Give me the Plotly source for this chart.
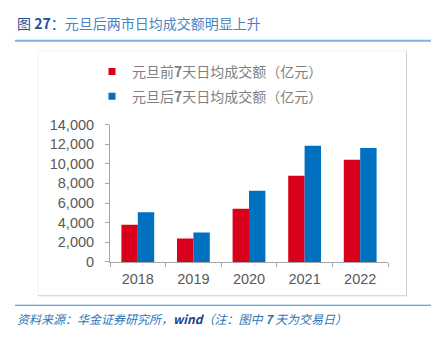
import plotly.graph_objects as go

W, H = 436, 339
years = ["2018", "2019", "2020", "2021", "2022"]
before = [3800, 2380, 5410, 8790, 10420]
after = [5050, 3000, 7260, 11850, 11620]
name_before = "元旦前<b>7</b>天日均成交额（亿元）"
name_after = "元旦后<b>7</b>天日均成交额（亿元）"
y_ticks = [0, 2000, 4000, 6000, 8000, 10000, 12000, 14000]

RED = "#D9001B"
BLUE = "#0070C0"
CJK = "Noto Sans CJK SC, Liberation Sans, Arial, sans-serif"
NUM = "Liberation Sans, Arial, sans-serif"

def px(x):
    return x / W

def py(y):
    return 1 - y / H

fig = go.Figure()
fig.add_trace(go.Bar(x=years, y=before, name=name_before, marker_color=RED,
                     marker_line_width=0, showlegend=False))
fig.add_trace(go.Bar(x=years, y=after, name=name_after, marker_color=BLUE,
                     marker_line_width=0, showlegend=False))
# legend keys (small squares like the reference)
fig.add_trace(go.Scatter(x=[None], y=[None], mode="markers", name=name_before,
                         marker=dict(symbol="square", size=7, color=RED),
                         legend="legend"))
fig.add_trace(go.Scatter(x=[None], y=[None], mode="markers", name=name_after,
                         marker=dict(symbol="square", size=7, color=BLUE),
                         legend="legend2"))

legend_style = dict(font=dict(family=CJK, size=14, color="#808080"),
                    bgcolor="rgba(0,0,0,0)", xanchor="left", yanchor="middle",
                    itemwidth=30)

fig.update_layout(
    width=W, height=H,
    margin=dict(l=0, r=0, t=0, b=0),
    paper_bgcolor="white", plot_bgcolor="white",
    barmode="group", bargap=0.41, bargroupgap=0,
    showlegend=True,
    legend=dict(x=px(92), y=py(67), **legend_style),
    legend2=dict(x=px(92), y=py(93), **legend_style),
    xaxis=dict(domain=[px(110), px(388)], type="category",
               categoryorder="array", categoryarray=years,
               showline=True, linecolor="#A6A6A6", linewidth=1,
               ticks="outside", tickson="boundaries", ticklen=4,
               tickcolor="#A6A6A6",
               tickfont=dict(family=NUM, size=14.5, color="#595959"),
               showgrid=False, ticklabelstandoff=4),
    yaxis=dict(domain=[py(266.5), py(122.3)], range=[0, 14000],
               tickvals=y_ticks, tickformat=",",
               showline=True, linecolor="#A6A6A6", linewidth=1,
               ticks="outside", ticklen=4, tickcolor="#A6A6A6",
               tickfont=dict(family=NUM, size=14.5, color="#595959"),
               showgrid=False, zeroline=False, ticklabelstandoff=8),
)

shapes = [
    # title underline
    dict(type="line", xref="paper", yref="paper", x0=px(15), x1=px(431),
         y0=py(34.5), y1=py(34.5), line=dict(color="#7FB2DC", width=2)),
    # footer line
    dict(type="line", xref="paper", yref="paper", x0=px(15), x1=px(431),
         y0=py(312), y1=py(312), line=dict(color="#2E8BD6", width=1.2)),
    # chart frame
    dict(type="rect", xref="paper", yref="paper", x0=px(38), x1=px(406.5),
         y0=py(302), y1=py(45), line=dict(color="#F2F2F2", width=1), layer="below"),
    dict(type="line", xref="paper", yref="paper", x0=px(406.5), x1=px(406.5),
         y0=py(302), y1=py(45), line=dict(color="#D0D0D0", width=1)),
    dict(type="line", xref="paper", yref="paper", x0=px(38), x1=px(406.5),
         y0=py(302), y1=py(302), line=dict(color="#D0D0D0", width=1)),
]
fig.update_layout(shapes=shapes)

fig.add_annotation(xref="paper", yref="paper", x=px(15), y=py(16),
                   xanchor="left", yanchor="middle", showarrow=False,
                   text="<span style='color:#1F4E9A'>图 <b>27</b>：</span>元旦后两市日均成交额明显上升",
                   font=dict(family=CJK, size=14, color="#4A82C6"))
fig.add_annotation(xref="paper", yref="paper", x=px(15), y=py(326),
                   xanchor="left", yanchor="middle", showarrow=False,
                   text="<i>资料来源：华金证券研究所，<b><span style='color:#1F3F8F'>wind</span></b>（注：图中 <b>7</b> 天为交易日）</i>",
                   font=dict(family=CJK, size=12, color="#2E75B6"))

fig.write_html("out.html")
